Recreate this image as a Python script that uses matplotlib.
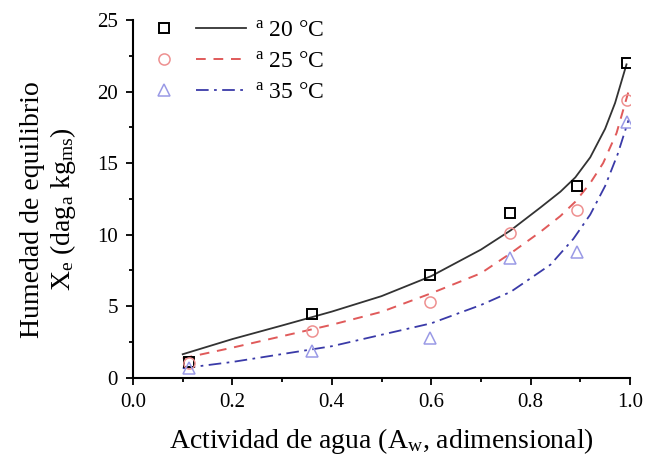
import matplotlib.pyplot as plt
from matplotlib.legend_handler import HandlerTuple

plt.rcParams['font.family'] = ['Liberation Serif', 'DejaVu Serif']
plt.rcParams['mathtext.fontset'] = 'custom'
plt.rcParams['mathtext.rm'] = 'Liberation Serif'
plt.rcParams['mathtext.it'] = 'Liberation Serif:italic'

# experimental points (water activity vs equilibrium moisture)
aw = [0.113, 0.360, 0.598, 0.759, 0.893, 0.993]
x_20 = [1.1, 4.45, 7.18, 11.5, 13.4, 22.0]
x_25 = [1.0, 3.25, 5.3, 10.1, 11.7, 19.4]
x_35 = [0.65, 1.85, 2.75, 8.35, 8.8, 17.9]

# fitted curves
aw_fit_20 = [0.10, 0.20, 0.30, 0.40, 0.50, 0.60, 0.70, 0.76, 0.82, 0.86, 0.89, 0.92, 0.95, 0.97, 0.993]
fit_20 = [1.64, 2.70, 3.65, 4.62, 5.70, 7.10, 8.95, 10.3, 11.9, 13.0, 14.0, 15.4, 17.4, 19.2, 21.9]
aw_fit_25 = [0.10, 0.20, 0.30, 0.40, 0.50, 0.60, 0.70, 0.76, 0.82, 0.86, 0.89, 0.92, 0.946, 0.973, 0.997]
fit_25 = [1.35, 2.10, 2.90, 3.70, 4.60, 5.90, 7.30, 8.70, 10.2, 11.3, 12.3, 13.6, 15.0, 17.1, 20.0]
aw_fit_35 = [0.10, 0.20, 0.30, 0.40, 0.50, 0.60, 0.70, 0.76, 0.84, 0.886, 0.92, 0.95, 0.975, 0.997]
fit_35 = [0.66, 1.10, 1.65, 2.20, 3.00, 3.80, 5.08, 6.00, 7.90, 9.70, 11.4, 13.4, 15.6, 18.0]

labels = [r'$^{\mathrm{a}}$ 20 °C', r'$^{\mathrm{a}}$ 25 °C', r'$^{\mathrm{a}}$ 35 °C']

fig = plt.figure(figsize=(6.47, 4.61), dpi=100)
ax = fig.add_axes([0.2056, 0.1807, 0.7681, 0.7759])

l20, = ax.plot(aw_fit_20, fit_20, color='#333333', lw=1.3, ls='-')
l25, = ax.plot(aw_fit_25, fit_25, color='#e05a5a', lw=1.4, ls=(0, (5, 4)))
l35, = ax.plot(aw_fit_35, fit_35, color='#3a3aa8', lw=1.3, ls=(0, (7, 3, 1.5, 3)))

m20, = ax.plot(aw, x_20, 's', ms=7, mfc='none', mec='black', mew=1.4)
m25, = ax.plot(aw, x_25, 'o', ms=8, mfc='none', mec='#ee9090', mew=1.1)
m35, = ax.plot(aw, x_35, '^', ms=8, mfc='none', mec='#9a9ae6', mew=1.1)

ax.set_xlim(0, 1.0)
ax.set_ylim(0, 25)
ax.set_xticks([0.0, 0.2, 0.4, 0.6, 0.8, 1.0])
ax.set_xticks([0.1, 0.3, 0.5, 0.7, 0.9], minor=True)
ax.set_yticks([0, 5, 10, 15, 20, 25])
ax.set_yticks([2.5, 7.5, 12.5, 17.5, 22.5], minor=True)
ax.xaxis.set_major_formatter(plt.FuncFormatter(lambda v, p: f'{v:.1f}'))
ax.tick_params(which='both', direction='out', width=1.3, labelsize=15, color='black')
ax.tick_params(which='major', length=5, pad=6)
ax.tick_params(which='minor', length=3)
for s in ['top', 'right']:
    ax.spines[s].set_visible(False)
for s in ['left', 'bottom']:
    ax.spines[s].set_linewidth(1.5)

ax.set_xlabel(r'Actividad de agua (A$_{\mathrm{w}}$, adimensional)', fontsize=20, labelpad=10)
ax.set_ylabel('Humedad de equilibrio\n' + r'X$_{\mathrm{e}}$ (dag$_{\mathrm{a}}$ kg$_{\mathrm{ms}}$)',
              fontsize=20, linespacing=1.15)
ax.yaxis.set_label_coords(-0.11, 0.47)

ax.legend([(m20, l20), (m25, l25), (m35, l35)], labels,
          handler_map={tuple: HandlerTuple(ndivide=None, pad=0.3)},
          handlelength=4.5, frameon=False, fontsize=17, loc='upper left',
          bbox_to_anchor=(-0.03, 1.06), labelspacing=0.4, handletextpad=0.4)

fig.savefig('out.png', dpi=100)
